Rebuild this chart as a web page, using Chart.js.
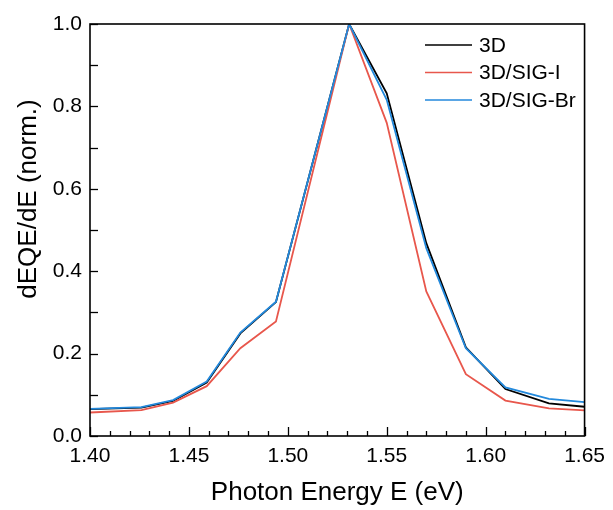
<!DOCTYPE html>
<html>
<head>
<meta charset="utf-8">
<script src="https://cdn.jsdelivr.net/npm/chart.js@4.4.1/dist/chart.umd.min.js"></script>
<style>
    html, body { margin: 0; padding: 0; background: #fff; }
    #wrap { width: 613px; height: 510px; }
</style>
</head>
<body>
<div id="wrap"><canvas id="dEqeChart" width="613" height="510"></canvas></div>
<script>
// photon energy (eV) of each sample
const energia = [1.40, 1.426, 1.442, 1.459, 1.476, 1.494, 1.531, 1.550, 1.570, 1.590, 1.610, 1.632, 1.65];

// normalised dEQE/dE
const serie3D    = [0.065, 0.069, 0.085, 0.130, 0.249, 0.325, 1.0, 0.832, 0.468, 0.215, 0.114, 0.079, 0.071];
const serieSigI  = [0.057, 0.063, 0.081, 0.121, 0.213, 0.278, 1.0, 0.760, 0.351, 0.150, 0.086, 0.067, 0.062];
const serieSigBr = [0.066, 0.070, 0.087, 0.132, 0.251, 0.326, 1.0, 0.816, 0.456, 0.213, 0.118, 0.090, 0.082];

const nomes = ["3D", "3D/SIG-I", "3D/SIG-Br"];
const cores = ["#000000", "#e8574c", "#2389dc"];

const tituloY = "dEQE/dE (norm.)";
const tituloX = "Photon Energy E (eV)";

const fonte = "'Liberation Sans', Arial, sans-serif";

function pontos(ys) {
    return energia.map((x, i) => ({ x: x, y: ys[i] }));
}

// inward ticks, frame, y title and legend
const molduraPlugin = {
    id: "moldura",
    afterDatasetsDraw(chart) {
        const ctx = chart.ctx;
        const { left, right, top, bottom } = chart.chartArea;
        const sx = chart.scales.x;
        const sy = chart.scales.y;
        ctx.save();
        ctx.strokeStyle = "#000";
        ctx.lineWidth = 1.3;

        // x minor every 0.01, major every 0.05
        for (let k = 0; k <= 25; k++) {
            const v = 1.40 + k * 0.01;
            const px = Math.round(sx.getPixelForValue(v)) + 0.5;
            const len = (k % 5 === 0) ? 9 : 5;
            ctx.beginPath();
            ctx.moveTo(px, bottom);
            ctx.lineTo(px, bottom - len);
            ctx.stroke();
        }
        // y ticks every 0.1
        for (let k = 0; k <= 10; k++) {
            const py = Math.round(sy.getPixelForValue(k * 0.1)) + 0.5;
            ctx.beginPath();
            ctx.moveTo(left, py);
            ctx.lineTo(left + 8, py);
            ctx.stroke();
        }

        ctx.lineWidth = 1.6;
        ctx.strokeRect(left, top, right - left, bottom - top);

        // y title
        ctx.fillStyle = "#000";
        ctx.font = "26px " + fonte;
        ctx.textAlign = "center";
        ctx.textBaseline = "middle";
        ctx.save();
        ctx.translate(29, 199);
        ctx.rotate(-Math.PI / 2);
        ctx.fillText(tituloY, 0, 0);
        ctx.restore();

        // legend
        ctx.font = "21px " + fonte;
        ctx.textAlign = "left";
        chart.data.datasets.forEach((ds, i) => {
            const yy = top + 21 + i * 27.5;
            ctx.strokeStyle = ds.borderColor;
            ctx.lineWidth = 1.6;
            ctx.beginPath();
            ctx.moveTo(425, yy);
            ctx.lineTo(472, yy);
            ctx.stroke();
            ctx.fillText(ds.label, 479, yy + 1);
        });
        ctx.restore();
    }
};

const ctxDeqe = document.getElementById("dEqeChart").getContext("2d");

let dEqeChart = new Chart(ctxDeqe, {
    type: "line",
    data: {
        datasets: [
            { label: nomes[0], data: pontos(serie3D), borderColor: cores[0], order: 3 },
            { label: nomes[1], data: pontos(serieSigI), borderColor: cores[1], order: 2 },
            { label: nomes[2], data: pontos(serieSigBr), borderColor: cores[2], order: 1 }
        ].map(d => Object.assign(d, {
            borderWidth: 1.8,
            pointRadius: 0,
            tension: 0,
            fill: false
        }))
    },
    options: {
        responsive: false,
        animation: false,
        layout: { padding: { top: 24, right: 26, left: 0, bottom: 0 } },
        plugins: {
            legend: { display: false },
            tooltip: { enabled: false }
        },
        scales: {
            x: {
                type: "linear",
                min: 1.40,
                max: 1.65,
                grid: { display: false, drawTicks: false },
                border: { display: false },
                ticks: {
                    stepSize: 0.05,
                    padding: 8,
                    color: "#000",
                    font: { family: fonte, size: 21 },
                    callback: v => v.toFixed(2)
                },
                title: {
                    display: true,
                    text: tituloX,
                    color: "#000",
                    font: { family: fonte, size: 26 },
                    padding: { top: 0, bottom: 2 }
                },
                afterFit: s => { s.height = 74; }
            },
            y: {
                min: 0,
                max: 1.0,
                grid: { display: false, drawTicks: false },
                border: { display: false },
                ticks: {
                    stepSize: 0.2,
                    padding: 8,
                    color: "#000",
                    font: { family: fonte, size: 21 },
                    callback: v => v.toFixed(1)
                },
                title: { display: false },
                afterFit: s => { s.width = 90; }
            }
        }
    },
    plugins: [molduraPlugin]
});
</script>
</body>
</html>
